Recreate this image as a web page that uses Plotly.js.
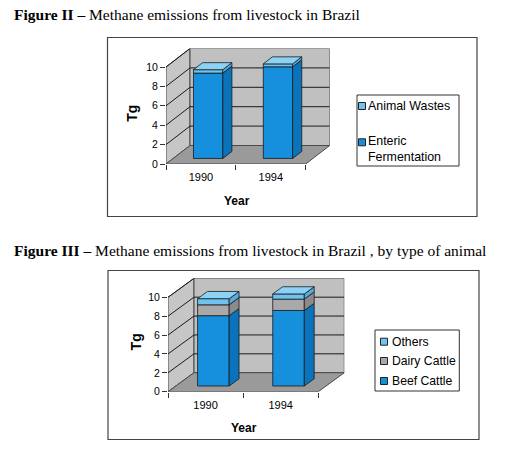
<!DOCTYPE html>
<html><head><meta charset="utf-8">
<script src="https://cdn.plot.ly/plotly-3.0.1.min.js"></script>
<style>html,body{margin:0;padding:0;background:#fff}</style>
</head><body><div id="chart" style="width:507px;height:451px"></div>
<script>
// ---------------- data ----------------
const years = ['1990', '1994'];
const yTicks = [0, 2, 4, 6, 8, 10];

// Figure II
const f2Names = ['Enteric Fermentation', 'Animal Wastes'];
const f2Labels = ['Enteric<br>Fermentation', 'Animal Wastes'];
const f2Enteric = [8.8, 9.45];
const f2Wastes = [0.35, 0.3];

// Figure III
const f3Names = ['Beef Cattle', 'Dairy Cattle', 'Others'];
const f3Labels = ['Beef Cattle', 'Dairy Cattle', 'Others'];
const f3Beef = [7.45, 8.0];
const f3Dairy = [1.15, 1.2];
const f3Others = [0.65, 0.55];

// ---------------- style ----------------
const W = 507, H = 451;
const px = x => x / W;
const py = y => 1 - y / H;
const SANS = 'Liberation Sans, Arial, sans-serif';
const SERIF = 'Liberation Serif, Times New Roman, serif';
const BLUE = {front: '#1690dc', side: '#0b73bb', top: '#4aa8e6'};
const LIGHT = {front: '#6fc3f0', side: '#55acdc', top: '#8dd1f5'};
const GRAY = {front: '#a9a9a9', side: '#8b8b8b', top: '#c4c4c4'};
const EDGE = '#1a1a1a';
const BAR_W = 0.42, F1 = 0.3, F2 = 0.68;

const data = [];
const layout = {
  width: W, height: H, margin: {l: 0, r: 0, t: 0, b: 0}, autosize: false,
  paper_bgcolor: '#fff', plot_bgcolor: 'rgba(0,0,0,0)', showlegend: false,
  barmode: 'overlay', font: {family: SANS, color: '#000'},
  shapes: [], annotations: []
};

function poly(pts) {
  return 'M' + pts.map(p => p[0].toFixed(4) + ',' + p[1].toFixed(4)).join('L') + 'Z';
}

function makeFig(g, stack) {
  const ux = (g.x2px - g.x0px) / 2;
  const uy = (g.y0px - g.y10px) / 10;
  const DX = g.dxPx / ux, DY = g.dyPx / uy;
  const xr = [0, 2 + DX], yr = [0, 10 + DY];
  const xk = g.xa === 'x' ? 'xaxis' : 'xaxis' + g.xa.slice(1);
  const yk = g.ya === 'y' ? 'yaxis' : 'yaxis' + g.ya.slice(1);
  layout[xk] = {
    domain: [px(g.x0px), px(g.x0px + xr[1] * ux)], range: xr, anchor: g.ya,
    tickmode: 'array', tickvals: [0.5, 1.5], ticktext: years,
    ticks: 'outside', ticklen: g.labGap, tickcolor: 'rgba(0,0,0,0)',
    minor: {tickmode: 'array', tickvals: [0, 1, 2], ticks: 'outside', ticklen: 5, tickcolor: '#333', tickwidth: 1, showgrid: false},
    showgrid: false, zeroline: false, showline: false, fixedrange: true,
    tickfont: {size: 11, family: SANS, color: '#000'}
  };
  layout[yk] = {
    domain: [py(g.y0px), py(g.y0px - yr[1] * uy)], range: yr, anchor: g.xa,
    tickmode: 'array', tickvals: yTicks, ticks: 'outside', ticklen: 5, tickcolor: '#333', tickwidth: 1,
    showgrid: false, zeroline: false, showline: false, fixedrange: true,
    tickfont: {size: 10.5, family: SANS, color: '#000'}
  };
  const sref = {xref: g.xa, yref: g.ya, layer: 'below'};
  const wallLine = {color: '#4a4a4a', width: 1};
  // side wall, back wall, floor
  layout.shapes.push(Object.assign({type: 'path', path: poly([[0, 0], [DX, DY], [DX, 10 + DY], [0, 10]]), fillcolor: '#c6c6c6', line: wallLine}, sref));
  layout.shapes.push(Object.assign({type: 'path', path: poly([[DX, DY], [2 + DX, DY], [2 + DX, 10 + DY], [DX, 10 + DY]]), fillcolor: '#c0c0c0', line: wallLine}, sref));
  layout.shapes.push(Object.assign({type: 'path', path: poly([[0, 0], [2, 0], [2 + DX, DY], [DX, DY]]), fillcolor: '#9a9a9a', line: wallLine}, sref));
  yTicks.forEach(v => {
    if (v === 0) return;
    layout.shapes.push(Object.assign({type: 'line', x0: 0, y0: v, x1: DX, y1: v + DY, line: {color: '#1a1a1a', width: 1}}, sref));
    if (v < 10) layout.shapes.push(Object.assign({type: 'line', x0: DX, y0: v + DY, x1: 2 + DX, y1: v + DY, line: {color: '#1a1a1a', width: 1}}, sref));
  });
  // bars
  const cum = years.map(() => 0);
  stack.forEach((s, k) => {
    const bases = s.values.map((v, i) => cum[i] + F1 * DY);
    const xs = years.map((y, i) => i + 0.5 + F1 * DX);
    data.push({
      type: 'bar', name: s.name, x: xs, y: s.values, base: bases, width: BAR_W,
      xaxis: g.xa, yaxis: g.ya, marker: {color: s.color.front, line: {color: EDGE, width: 0.8}},
      hovertemplate: s.name + ': %{y}<extra></extra>'
    });
    s.values.forEach((v, i) => {
      const a = cum[i], b = cum[i] + v;
      const xl = i + 0.5 - BAR_W / 2, xrr = i + 0.5 + BAR_W / 2;
      data.push({
        type: 'scatter', mode: 'lines', fill: 'toself', fillcolor: s.color.side,
        line: {color: EDGE, width: 0.8}, hoverinfo: 'skip', xaxis: g.xa, yaxis: g.ya,
        x: [xrr + F1 * DX, xrr + F2 * DX, xrr + F2 * DX, xrr + F1 * DX, xrr + F1 * DX],
        y: [a + F1 * DY, a + F2 * DY, b + F2 * DY, b + F1 * DY, a + F1 * DY]
      });
      if (k === stack.length - 1) {
        data.push({
          type: 'scatter', mode: 'lines', fill: 'toself', fillcolor: s.color.top,
          line: {color: EDGE, width: 0.8}, hoverinfo: 'skip', xaxis: g.xa, yaxis: g.ya,
          x: [xl + F1 * DX, xrr + F1 * DX, xrr + F2 * DX, xl + F2 * DX, xl + F1 * DX],
          y: [b + F1 * DY, b + F1 * DY, b + F2 * DY, b + F2 * DY, b + F1 * DY]
        });
      }
      cum[i] = b;
    });
  });
  // frame box
  layout.shapes.push({type: 'rect', xref: 'paper', yref: 'paper', x0: px(g.box[0]), x1: px(g.box[1]), y0: py(g.box[2]), y1: py(g.box[3]), line: {color: '#444', width: 1.2}, fillcolor: 'rgba(0,0,0,0)', layer: 'below'});
  // title and axis titles
  layout.annotations.push({xref: 'paper', yref: 'paper', x: px(12), y: py(g.titleY), xanchor: 'left', yanchor: 'middle', showarrow: false, text: g.title, font: {family: SERIF, size: 15.5, color: '#000'}});
  layout.annotations.push({xref: 'paper', yref: 'paper', x: px(g.tg[0]), y: py(g.tg[1]), xanchor: 'center', yanchor: 'middle', showarrow: false, textangle: -90, text: '<b>Tg</b>', font: {family: SANS, size: 14, color: '#000'}});
  layout.annotations.push({xref: 'paper', yref: 'paper', x: px(g.yr[0]), y: py(g.yr[1]), xanchor: 'center', yanchor: 'middle', showarrow: false, text: '<b>Year</b>', font: {family: SANS, size: 12, color: '#000'}});
  // legend
  const L = g.leg;
  layout.shapes.push({type: 'rect', xref: 'paper', yref: 'paper', x0: px(L.box[0]), x1: px(L.box[1]), y0: py(L.box[2]), y1: py(L.box[3]), line: {color: '#333', width: 1}, fillcolor: '#fff', layer: 'above'});
  stack.slice().reverse().forEach((s, j) => {
    const cy = L.rows[j];
    layout.shapes.push({type: 'rect', xref: 'paper', yref: 'paper', x0: px(L.sx), x1: px(L.sx + 7), y0: py(cy + 3.5), y1: py(cy - 3.5), line: {color: '#222', width: 1}, fillcolor: s.color.front, layer: 'above'});
    layout.annotations.push({xref: 'paper', yref: 'paper', x: px(L.tx), y: py(L.textRows[j]), xanchor: 'left', yanchor: 'middle', align: 'left', showarrow: false, text: s.label, font: {family: SANS, size: L.size, color: '#000'}});
  });
}

makeFig({
  xa: 'x', ya: 'y', x0px: 166, x2px: 305.7, y0px: 164, y10px: 67, dxPx: 24, dyPx: 18.5, labGap: 3,
  box: [107.5, 477, 37.5, 216.5], titleY: 15,
  title: '<b>Figure II –</b> Methane emissions from livestock in Brazil',
  tg: [131.7, 113], yr: [236.7, 200.7],
  leg: {box: [357, 459, 95, 166], sx: 358.5, tx: 365.5, size: 12.4, rows: [106, 142.3], textRows: [106, 149.2]}
}, [
  {name: f2Names[0], label: f2Labels[0], values: f2Enteric, color: BLUE},
  {name: f2Names[1], label: f2Labels[1], values: f2Wastes, color: LIGHT}
]);

makeFig({
  xa: 'x2', ya: 'y2', x0px: 168, x2px: 318.3, y0px: 391.7, y10px: 297.3, dxPx: 26, dyPx: 19, labGap: 3,
  box: [108, 479, 270.5, 439.5], titleY: 250,
  title: '<b>Figure III –</b> Methane emissions from livestock in Brazil , by type of animal',
  tg: [135.7, 341.7], yr: [244, 427.7],
  leg: {box: [375, 459.3, 330, 391], sx: 380.5, tx: 389.5, size: 12.2, rows: [341.7, 361, 381], textRows: [341.7, 361, 381]}
}, [
  {name: f3Names[0], label: f3Labels[0], values: f3Beef, color: BLUE},
  {name: f3Names[1], label: f3Labels[1], values: f3Dairy, color: GRAY},
  {name: f3Names[2], label: f3Labels[2], values: f3Others, color: LIGHT}
]);

Plotly.newPlot('chart', data, layout, {staticPlot: true, displayModeBar: false});
</script>
</body></html>
